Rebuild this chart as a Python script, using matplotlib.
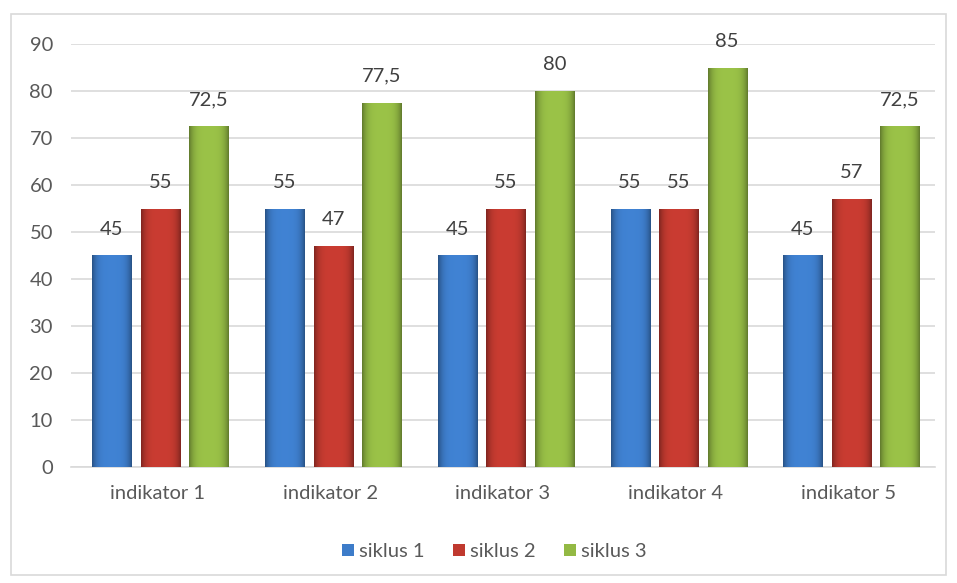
import numpy as np
import matplotlib.pyplot as plt
from matplotlib.colors import to_rgb
from matplotlib.patches import Rectangle

plt.rcParams['font.family'] = ['Lato', 'DejaVu Sans']

kategori = ['indikator 1', 'indikator 2', 'indikator 3', 'indikator 4', 'indikator 5']
siklus1 = [45, 55, 45, 55, 45]
siklus2 = [55, 47, 55, 55, 57]
siklus3 = [72.5, 77.5, 80, 85, 72.5]
seri = ['siklus 1', 'siklus 2', 'siklus 3']
warna = ['#3d7cc9', '#c0392f', '#93b944']

def label(v):
  s = ('%g' % v).replace('.', ',')
  return s

def gradien(ax, bar, c):
  # bevel kira-kira: tepi gelap, tengah terang
  r, g, b = to_rgb(c)
  xs = np.linspace(-1, 1, 40)
  f = 1.0 - 0.35*np.abs(xs)**4
  img = np.zeros((1, 40, 3))
  img[0, :, 0] = np.clip(r*f*1.05, 0, 1)
  img[0, :, 1] = np.clip(g*f*1.05, 0, 1)
  img[0, :, 2] = np.clip(b*f*1.05, 0, 1)
  x0, y0 = bar.get_x(), bar.get_y()
  w, h = bar.get_width(), bar.get_height()
  im = ax.imshow(img, extent=[x0, x0+w, y0, y0+h], aspect='auto', zorder=3, interpolation='bilinear')
  im.set_clip_path(bar)

fig = plt.figure(figsize=(9.57, 5.83), dpi=100)
ax = fig.add_axes([0.0742, 0.199, 0.9024, 0.7255])

x = np.arange(len(kategori))
w = 0.226
step = 0.281
geser = 0.018
data = [siklus1, siklus2, siklus3]
for i in range(3):
  bars = ax.bar(x + (i-1)*step + geser, data[i], w, color=warna[i], edgecolor='none', zorder=2, label=seri[i])
  for bar, v in zip(bars, data[i]):
    gradien(ax, bar, warna[i])
    ax.annotate(label(v), (bar.get_x() + bar.get_width()/2, v), xytext=(0, 19), textcoords='offset points',
                ha='center', va='center', fontsize=14.5, color='#404040')

ax.set_xlim(-0.5, 4.5)
ax.set_ylim(0, 90)
ax.set_yticks(range(0, 91, 10))
ax.set_xticks(x)
ax.set_xticklabels(kategori)
ax.grid(axis='y', color='#d9d9d9', linewidth=1.2, zorder=0)
for s in ['top', 'right', 'left']:
  ax.spines[s].set_visible(False)
ax.spines['bottom'].set_color('#d9d9d9')
ax.spines['bottom'].set_linewidth(1.2)
ax.tick_params(length=0, labelsize=14.5, labelcolor='#595959')
ax.tick_params(axis='x', pad=13)
ax.tick_params(axis='y', pad=13)

ax.legend(loc='center', bbox_to_anchor=(0.49, -0.2), ncol=3, frameon=False, fontsize=14.5,
          handlelength=0.6, handleheight=0.6, handletextpad=0.25, columnspacing=1.4, labelcolor='#595959')

fig.patches.append(Rectangle((0.011, 0.013), 0.978, 0.963, transform=fig.transFigure,
                             fill=False, edgecolor='#d9d9d9', linewidth=1.2))

plt.savefig('out.png', dpi=100)
